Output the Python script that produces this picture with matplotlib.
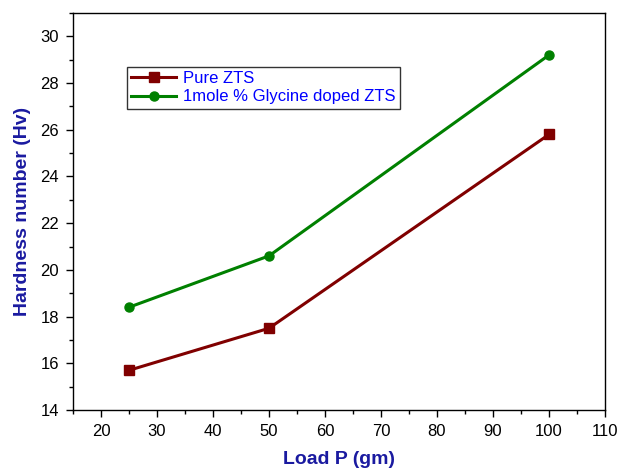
import matplotlib
matplotlib.use('Agg')
import matplotlib.pyplot as plt
from matplotlib.ticker import MultipleLocator

plt.rcParams['font.family'] = ['Liberation Sans', 'DejaVu Sans']

# data
load = [25, 50, 100]
pure_zts = [15.7, 17.5, 25.8]
glycine_zts = [18.4, 20.6, 29.2]

fig = plt.figure(figsize=(6.27, 4.71), dpi=100)
ax = fig.add_axes([73/627, 61/471, 532/627, 397/471])

ax.plot(load, pure_zts, color='#800000', lw=2.2, marker='s', ms=6.5, label='Pure ZTS')
ax.plot(load, glycine_zts, color='#008000', lw=2.2, marker='o', ms=6.5,
        label='1mole % Glycine doped ZTS')

ax.set_xlim(15, 110)
ax.set_ylim(14, 31)
ax.xaxis.set_major_locator(MultipleLocator(10))
ax.xaxis.set_minor_locator(MultipleLocator(5))
ax.yaxis.set_major_locator(MultipleLocator(2))
ax.yaxis.set_minor_locator(MultipleLocator(1))
ax.tick_params(which='major', length=5, width=1, labelsize=12, direction='out', pad=5)
ax.tick_params(which='minor', length=3, width=1, direction='out')
for s in ax.spines.values():
    s.set_linewidth(1)

ax.set_xlabel('Load P (gm)', fontsize=14, fontweight='bold', color='#1a1aa0', labelpad=9)
ax.set_ylabel('Hardness number (Hv)', fontsize=14, fontweight='bold', color='#1a1aa0', labelpad=7)

leg = ax.legend(loc='upper left', bbox_to_anchor=(0.102, 0.864), fontsize=12,
                frameon=True, fancybox=False, edgecolor='black', handlelength=2.7,
                borderpad=0.25, labelspacing=0.2, handletextpad=0.4, borderaxespad=0)
leg.get_frame().set_linewidth(1)
for t in leg.get_texts():
    t.set_color('#0000ff')

fig.savefig('out.png', dpi=100)
